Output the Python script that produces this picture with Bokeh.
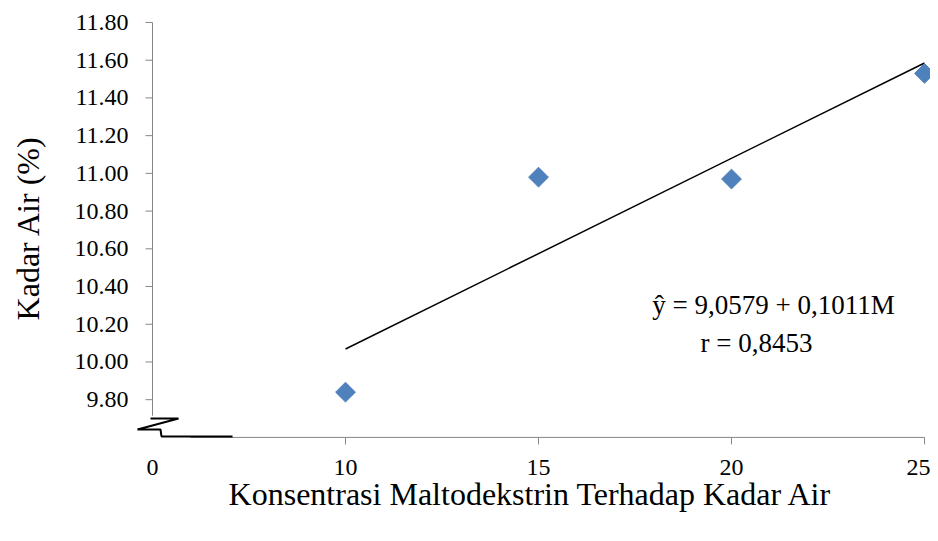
import math
from bokeh.plotting import figure
from bokeh.models import Range1d, FixedTicker, Label, PrintfTickFormatter
from bokeh.embed import file_html
from bokeh.resources import INLINE

# ---- data ----
concentration = [10, 15, 20, 25]
water_content = [9.84, 10.98, 10.97, 11.53]
intercept = 9.0579
slope = 0.1011
r_text = "0,8453"
x_ticks = [10, 15, 20, 25]
y_ticks = [9.80, 10.00, 10.20, 10.40, 10.60, 10.80, 11.00, 11.20, 11.40, 11.60, 11.80]
origin_value = 5          # position of the broken origin on the x scale
origin_label = "0"
y_axis_floor = 9.6        # value where the x axis sits
x_title = "Konsentrasi Maltodekstrin Terhadap Kadar Air"
y_title = "Kadar Air (%)"

SERIF = "Liberation Serif"
AXIS_GREY = "#868686"

p = figure(width=930, height=525, output_backend="svg", toolbar_location=None,
           x_range=Range1d(4.43, 25.155), y_range=Range1d(9.5571, 11.8636),
           min_border_left=130, min_border_right=0, min_border_top=10, min_border_bottom=80)
p.outline_line_color = None
p.grid.visible = False
p.background_fill_color = "white"
p.border_fill_color = "white"

# ---- axes: labels from Bokeh axes, lines/ticks drawn at the broken origin ----
p.xaxis.ticker = FixedTicker(ticks=[origin_value] + x_ticks, minor_ticks=[])
p.xaxis.major_label_overrides = {origin_value: origin_label}
p.yaxis.ticker = FixedTicker(ticks=y_ticks, minor_ticks=[])
p.yaxis.formatter = PrintfTickFormatter(format="%.2f")
for ax in (p.xaxis, p.yaxis):
    ax.axis_line_color = None
    ax.major_tick_line_color = None
    ax.minor_tick_line_color = None
    ax.major_tick_out = 0
    ax.major_tick_in = 0
    ax.major_label_text_font = SERIF
    ax.major_label_text_font_size = "24px"
    ax.major_label_text_color = "black"
    ax.axis_label_text_font = SERIF
    ax.axis_label_text_font_size = "32px"
    ax.axis_label_text_font_style = "normal"
    ax.axis_label_text_color = "black"
p.xaxis.major_label_standoff = 14
p.yaxis.major_label_standoff = 2
p.xaxis.axis_label = x_title
p.yaxis.axis_label = y_title
p.xaxis.axis_label_standoff = -2
p.yaxis.axis_label_standoff = 26

# y axis line and outward ticks
y_break = 9.715
p.line([origin_value, origin_value], [y_break, y_ticks[-1]], line_color=AXIS_GREY, line_width=1)
p.ray(x=[origin_value] * len(y_ticks), y=y_ticks, length=7, length_units="screen",
      angle=math.pi, line_color=AXIS_GREY, line_width=1)
# x axis line and outward ticks
x_axis_start = 5.98
p.line([x_axis_start, x_ticks[-1]], [y_axis_floor, y_axis_floor], line_color=AXIS_GREY, line_width=1)
p.ray(x=x_ticks, y=[y_axis_floor] * len(x_ticks), length=7, length_units="screen",
      angle=-math.pi / 2, line_color=AXIS_GREY, line_width=1)

# axis break symbol (decoration)
brk_x = [4.948, 5.674, 4.611, 5.207, 5.233, 7.073]
brk_y = [9.700, 9.700, 9.642, 9.642, 9.605, 9.605]
p.line(brk_x, brk_y, line_color="black", line_width=2)

# regression line
line_x = [concentration[0], concentration[-1]]
line_y = [intercept + slope * x for x in line_x]
p.line(line_x, line_y, line_color="black", line_width=1.5)

# data points
p.scatter(concentration, water_content, marker="square", size=14, angle=math.pi / 4,
          fill_color="#4F81BD", line_color="#4F81BD", level="overlay")

# equation annotation
eq_text = ("ŷ = %.4f + %.4fM" % (intercept, slope)).replace(".", ",")
p.add_layout(Label(x=21.088, y=10.2995, text=eq_text, text_font=SERIF, text_font_size="27px",
                   text_align="center", text_baseline="middle", text_color="black"))
p.add_layout(Label(x=20.648, y=10.103, text="r = " + r_text, text_font=SERIF, text_font_size="27px",
                   text_align="center", text_baseline="middle", text_color="black"))

open("out.html", "w").write(file_html(p, INLINE))
